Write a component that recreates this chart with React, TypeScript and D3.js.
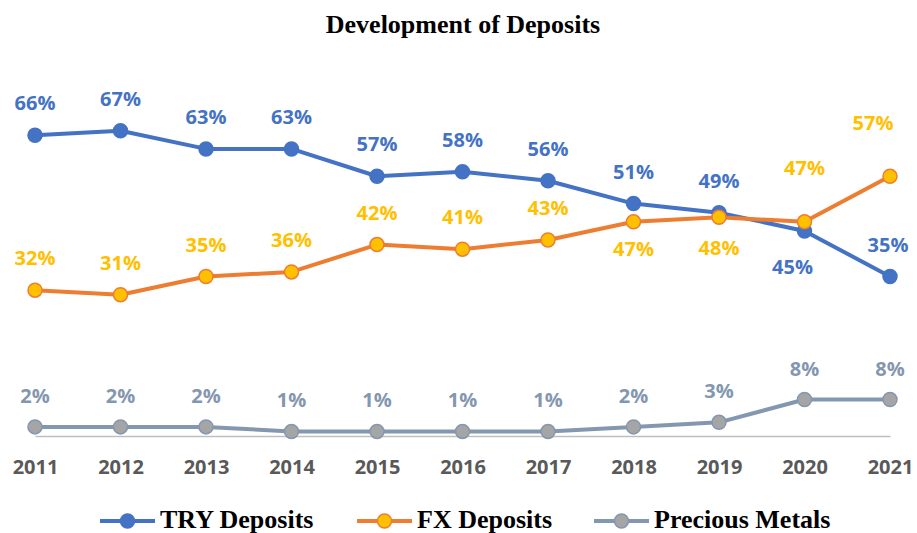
import * as d3 from "d3";
import React, { useEffect, useRef } from "react";

const years = ["2011", "2012", "2013", "2014", "2015", "2016", "2017", "2018", "2019", "2020", "2021"];
const tryDeposits = [66, 67, 63, 63, 57, 58, 56, 51, 49, 45, 35];
const fxDeposits = [32, 31, 35, 36, 42, 41, 43, 47, 48, 47, 57];
const preciousMetals = [2, 2, 2, 1, 1, 1, 1, 2, 3, 8, 8];

// label offsets from each point [dx, dy]
const tryLabelPos = [[0, -32], [0, -32], [0, -32], [0, -32], [0, -32], [0, -32], [0, -32], [0, -32], [0, -32], [-12, 36], [-2, -32]];
const fxLabelPos = [[0, -32], [0, -32], [0, -32], [0, -32], [0, -32], [0, -32], [0, -32], [0, 27], [0, 31], [0, -54], [-17, -53]];
const pmLabelPos = years.map(() => [0, -31]);

const App = () => {
  const svgRef = useRef(null);
  useEffect(() => {
    const width = 917;
    const height = 533;
    const svg = d3.select(svgRef.current).attr("width", width).attr("height", height);
    svg.selectAll("*").remove();

    //scales
    const xScale = d3.scalePoint().domain(years).range([35, 890]);
    const yScale = d3.scaleLinear().domain([0, 70]).range([436, 117]);

    //title
    svg
      .append("text")
      .attr("x", 463)
      .attr("y", 33)
      .attr("text-anchor", "middle")
      .style("font-family", "'Liberation Serif', 'Times New Roman', serif")
      .style("font-weight", "bold")
      .style("font-size", "26px")
      .text("Development of Deposits");

    //x axis
    const xAxis = d3.axisBottom(xScale).tickSize(0).tickPadding(24);
    const gx = svg.append("g").attr("transform", `translate(0,${yScale(0)})`).call(xAxis);
    gx.select(".domain").attr("stroke", "#BFBFBF").attr("stroke-width", 1.5);
    gx.selectAll("text")
      .style("font-family", "'Open Sans', sans-serif")
      .style("font-weight", "bold")
      .style("font-size", "20px")
      .attr("fill", "#595959");

    const series = [
      { name: "TRY Deposits", values: tryDeposits, line: "#4472C4", fill: "#4472C4", stroke: "#4472C4", label: "#4472C4", pos: tryLabelPos },
      { name: "FX Deposits", values: fxDeposits, line: "#ED7D31", fill: "#FFC000", stroke: "#ED7D31", label: "#FFC000", pos: fxLabelPos },
      { name: "Precious Metals", values: preciousMetals, line: "#8497B0", fill: "#A5A5A5", stroke: "#8497B0", label: "#8497B0", pos: pmLabelPos },
    ];

    const line = d3
      .line<number>()
      .x((d, i) => xScale(years[i]))
      .y((d) => yScale(d));

    series.forEach((s) => {
      const g = svg.append("g");
      g.append("path")
        .attr("d", line(s.values))
        .attr("fill", "none")
        .attr("stroke", s.line)
        .attr("stroke-width", 4)
        .attr("stroke-linejoin", "round");
      g.selectAll("circle")
        .data(s.values)
        .join("circle")
        .attr("cx", (d, i) => xScale(years[i]))
        .attr("cy", (d) => yScale(d))
        .attr("r", 7)
        .attr("fill", s.fill)
        .attr("stroke", s.stroke)
        .attr("stroke-width", 1.5);
      g.selectAll("text")
        .data(s.values)
        .join("text")
        .attr("x", (d, i) => xScale(years[i]) + s.pos[i][0])
        .attr("y", (d, i) => yScale(d) + s.pos[i][1])
        .attr("dy", "0.35em")
        .attr("text-anchor", "middle")
        .style("font-family", "'Open Sans', sans-serif")
        .style("font-weight", "bold")
        .style("font-size", "20px")
        .attr("fill", s.label)
        .text((d) => d + "%");
    });

    //legend
    const legendX = [100, 357, 594];
    series.forEach((s, i) => {
      const lg = svg.append("g").attr("transform", `translate(${legendX[i]},521)`);
      lg.append("line").attr("x1", 0).attr("x2", 55).attr("stroke", s.line).attr("stroke-width", 4);
      lg.append("circle").attr("cx", 27.5).attr("r", 7).attr("fill", s.fill).attr("stroke", s.stroke).attr("stroke-width", 1.5);
      lg.append("text")
        .attr("x", 60)
        .attr("y", 7)
        .style("font-family", "'Liberation Serif', 'Times New Roman', serif")
        .style("font-weight", "bold")
        .style("font-size", "26px")
        .attr("fill", "#000")
        .text(s.name);
    });
  }, []);

  return <svg ref={svgRef} style={{ position: "absolute", left: 0, top: 0 }}></svg>;
};

export default App;
